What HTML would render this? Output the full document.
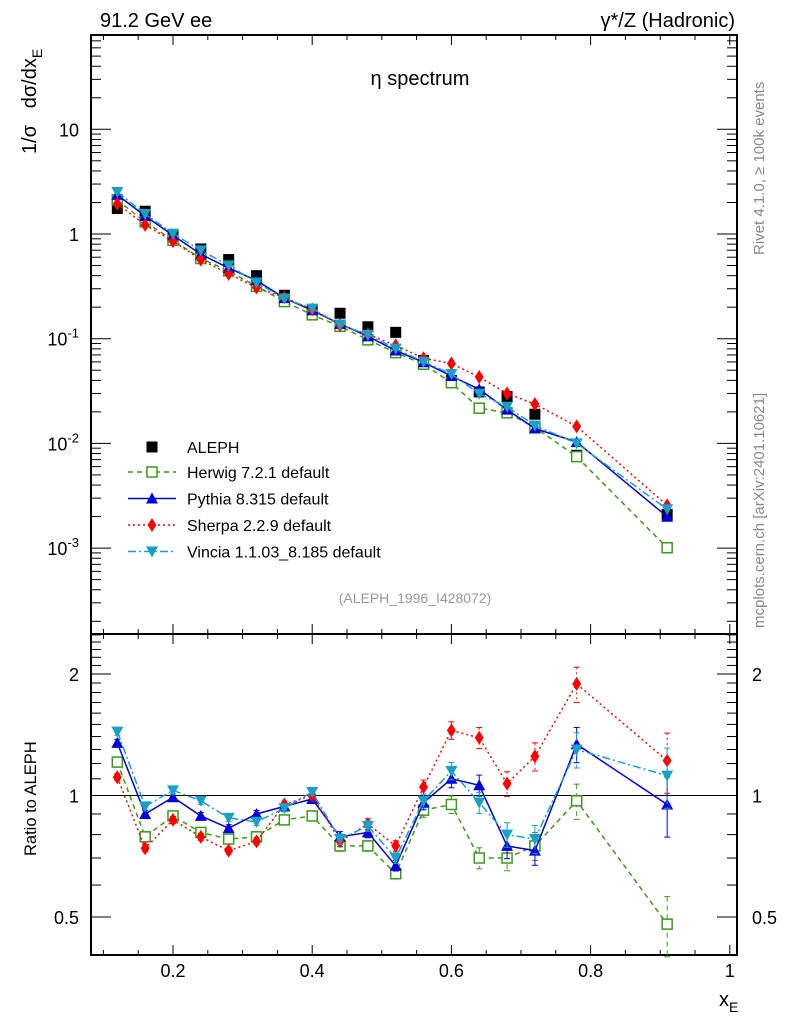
<!DOCTYPE html>
<html><head><meta charset="utf-8"><style>
html,body{margin:0;padding:0;background:#fff;}
svg{display:block;font-family:"Liberation Sans",sans-serif;}
</style></head><body>
<svg id="c" width="786" height="1024" xmlns="http://www.w3.org/2000/svg">
<text x="100" y="27" font-size="20">91.2 GeV ee</text>
<text x="735" y="27" font-size="20" text-anchor="end">γ*/Z (Hadronic)</text>
<text x="420" y="85" font-size="20" text-anchor="middle">η spectrum</text>
<text transform="translate(36,154) rotate(-90)" font-size="20" xml:space="preserve">1/σ   dσ/dx<tspan font-size="14" dy="6">E</tspan></text>
<text transform="translate(36,856) rotate(-90)" font-size="16.5">Ratio to ALEPH</text>
<text transform="translate(764,255) rotate(-90)" font-size="15" fill="#888">Rivet 4.1.0, ≥ 100k events</text>
<text transform="translate(764,628) rotate(-90)" font-size="15" fill="#888">mcplots.cern.ch [arXiv:2401.10621]</text>
<text x="415" y="603" font-size="14" fill="#999" text-anchor="middle">(ALEPH_1996_I428072)</text>
<text x="719" y="1006" font-size="20">x<tspan font-size="14" dy="6">E</tspan></text>
<g id="g"></g>
</svg>
<script>
const xs=[0.12,0.16,0.20,0.24,0.28,0.32,0.36,0.40,0.44,0.48,0.52,0.56,0.60,0.64,0.68,0.72,0.78,0.91];
const aleph=[1.75,1.65,0.98,0.72,0.57,0.40,0.26,0.19,0.175,0.13,0.115,0.062,0.040,0.031,0.028,0.019,0.0077,0.0021];
const herwigR=[1.21,0.79,0.89,0.81,0.78,0.79,0.87,0.89,0.75,0.75,0.64,0.92,0.95,0.70,0.70,0.75,0.97,0.48];
const pythiaR=[1.35,0.90,0.99,0.89,0.83,0.90,0.94,0.98,0.79,0.81,0.67,0.96,1.10,1.06,0.75,0.73,1.34,0.95];
const sherpaR=[1.11,0.74,0.87,0.79,0.73,0.77,0.95,1.00,0.77,0.85,0.75,1.05,1.45,1.39,1.07,1.25,1.89,1.22];
const vinciaR=[1.44,0.94,1.03,0.97,0.88,0.86,0.93,1.02,0.78,0.84,0.70,0.97,1.15,0.96,0.80,0.78,1.30,1.12];
const relErr=[0.02,0.02,0.02,0.02,0.02,0.02,0.02,0.02,0.03,0.03,0.03,0.04,0.05,0.06,0.07,0.08,0.10,0.17];
const xTicks=[0.2,0.4,0.6,0.8,1];
const yTicks=[1,0,-1,-2,-3];
const rTicks=[0.5,1,2];

const NS="http://www.w3.org/2000/svg",G=document.getElementById('g');
const L=91,R=737,T=35,M=634,B=955;
const X=v=>173+(v-0.2)*696;
const Y=v=>234-104.7*Math.log10(v);
const YR=v=>795.5-121.5*Math.log2(v);
function el(t,a,p){const e=document.createElementNS(NS,t);for(const k in a)e.setAttribute(k,a[k]);(p||G).appendChild(e);return e;}
function ln(x1,y1,x2,y2,w){return el('line',{x1,y1,x2,y2,stroke:'#000','stroke-width':w||1});}

let f1=el('rect',{x:L,y:T,width:R-L,height:M-T,fill:'none',stroke:'#000','stroke-width':2});


let f2=el('rect',{x:L,y:M,width:R-L,height:B-M,fill:'none',stroke:'#000','stroke-width':2});


let one=ln(L,YR(1),R,YR(1),1);



for(let k=2;k<=20;k++){
  const v=k*0.05;const px=X(v);if(px<L||px>R)continue;
  const major=k%4==0;const len=major?10:5;
  for(const [a,b] of [[M,M-len],[T,T+len],[B,B-len],[M,M+len]]) ln(px,a,px,b);
}
xTicks.forEach(v=>{const t=el('text',{x:X(v),y:977,'font-size':18,'text-anchor':'middle'});t.textContent=String(v);

});

for(let d=-4;d<=1;d++){for(let m=1;m<10;m++){const v=m*Math.pow(10,d),py=Y(v);if(py<T||py>M)continue;const len=m==1?20:10;ln(L,py,L+len,py);ln(R,py,R-len,py);}}
yTicks.forEach(d=>{const t=el('text',{x:79,y:Y(Math.pow(10,d))+7,'font-size':18,'text-anchor':'end'});
 if(d==1)t.textContent='10';else if(d==0)t.textContent='1';else{t.textContent='10';const s=el('tspan',{'font-size':13,dy:-8},t);s.textContent=String(d);}
 
 });

for(let k=4;k<=26;k++){const v=k/10;const py=YR(v);if(py<M||py>B)continue;const mj=(k==5||k==10||k==20);const len=mj?20:10;ln(L,py,L+len,py);ln(R,py,R-len,py);}
rTicks.forEach(v=>{for(const [xx,an] of [[79,'end'],[752,'start']]){const t=el('text',{x:xx,y:YR(v)+7,'font-size':18,'text-anchor':an});t.textContent=String(v);
 
 }});

function marker(kind,x,y,c,p){
  if(kind=='sq')return el('rect',{x:x-5.5,y:y-5.5,width:11,height:11,fill:'#000'},p);
  if(kind=='osq')return el('rect',{x:x-5,y:y-5,width:10,height:10,fill:'#fff',stroke:c,'stroke-width':1.5},p);
  if(kind=='up')return el('polygon',{points:`${x},${y-6} ${x-6},${y+5} ${x+6},${y+5}`,fill:c},p);
  if(kind=='dn')return el('polygon',{points:`${x-6},${y-5} ${x+6},${y-5} ${x},${y+6}`,fill:c},p);
  if(kind=='dia')return el('polygon',{points:`${x},${y-7} ${x+4.5},${y} ${x},${y+7} ${x-4.5},${y}`,fill:c},p);
}
const series=[
 {name:'herwig',r:herwigR,c:'#3a9a1a',k:'osq',d:'5,4',label:'Herwig 7.2.1 default'},
 {name:'pythia',r:pythiaR,c:'#0000e0',k:'up',d:'',label:'Pythia 8.315 default'},
 {name:'sherpa',r:sherpaR,c:'#ff0000',k:'dia',d:'2,3',label:'Sherpa 2.2.9 default'},
 {name:'vincia',r:vinciaR,c:'#18a0c8',k:'dn',d:'8,3,2,3',label:'Vincia 1.1.03_8.185 default'}];

const ga=el('g',{});


xs.forEach((x,i)=>marker('sq',X(x),Y(aleph[i]),'#000',ga));

series.forEach(s=>{
  const gm=el('g',{});
  
  
  const pm=xs.map((x,i)=>X(x)+','+Y(aleph[i]*s.r[i])).join(' ');
  el('polyline',{points:pm,fill:'none',stroke:s.c,'stroke-width':1.5,'stroke-dasharray':s.d},gm);
  xs.forEach((x,i)=>marker(s.k,X(x),Y(aleph[i]*s.r[i]),s.c,gm));
  const gr=el('g',{});
  
  
  const pr=xs.map((x,i)=>X(x)+','+YR(s.r[i])).join(' ');
  el('polyline',{points:pr,fill:'none',stroke:s.c,'stroke-width':1.5,'stroke-dasharray':s.d},gr);
  xs.forEach((x,i)=>{const e=s.r[i]*relErr[i];const px=X(x);
    el('line',{x1:px,y1:YR(s.r[i]+e),x2:px,y2:YR(s.r[i]-e),stroke:s.c,'stroke-width':1,'stroke-dasharray':s.d},gr);
    el('line',{x1:px-3,y1:YR(s.r[i]+e),x2:px+3,y2:YR(s.r[i]+e),stroke:s.c},gr);
    el('line',{x1:px-3,y1:YR(s.r[i]-e),x2:px+3,y2:YR(s.r[i]-e),stroke:s.c},gr);
    marker(s.k,px,YR(s.r[i]),s.c,gr);});
});

const lg=el('g',{});


const le0=el('g',{},lg);


marker('sq',152,447,'#000',le0);
let t0=el('text',{x:187,y:453,'font-size':16},le0);t0.textContent='ALEPH';
series.forEach((s,i)=>{const y=472+i*26.5;const e=el('g',{},lg);
 
 
 el('line',{x1:128,y1:y,x2:176,y2:y,stroke:s.c,'stroke-width':1.5,'stroke-dasharray':s.d},e);
 marker(s.k,152,y,s.c,e);
 const t=el('text',{x:187,y:y+6,'font-size':16},e);t.textContent=s.label;});
</script>
</body></html>
